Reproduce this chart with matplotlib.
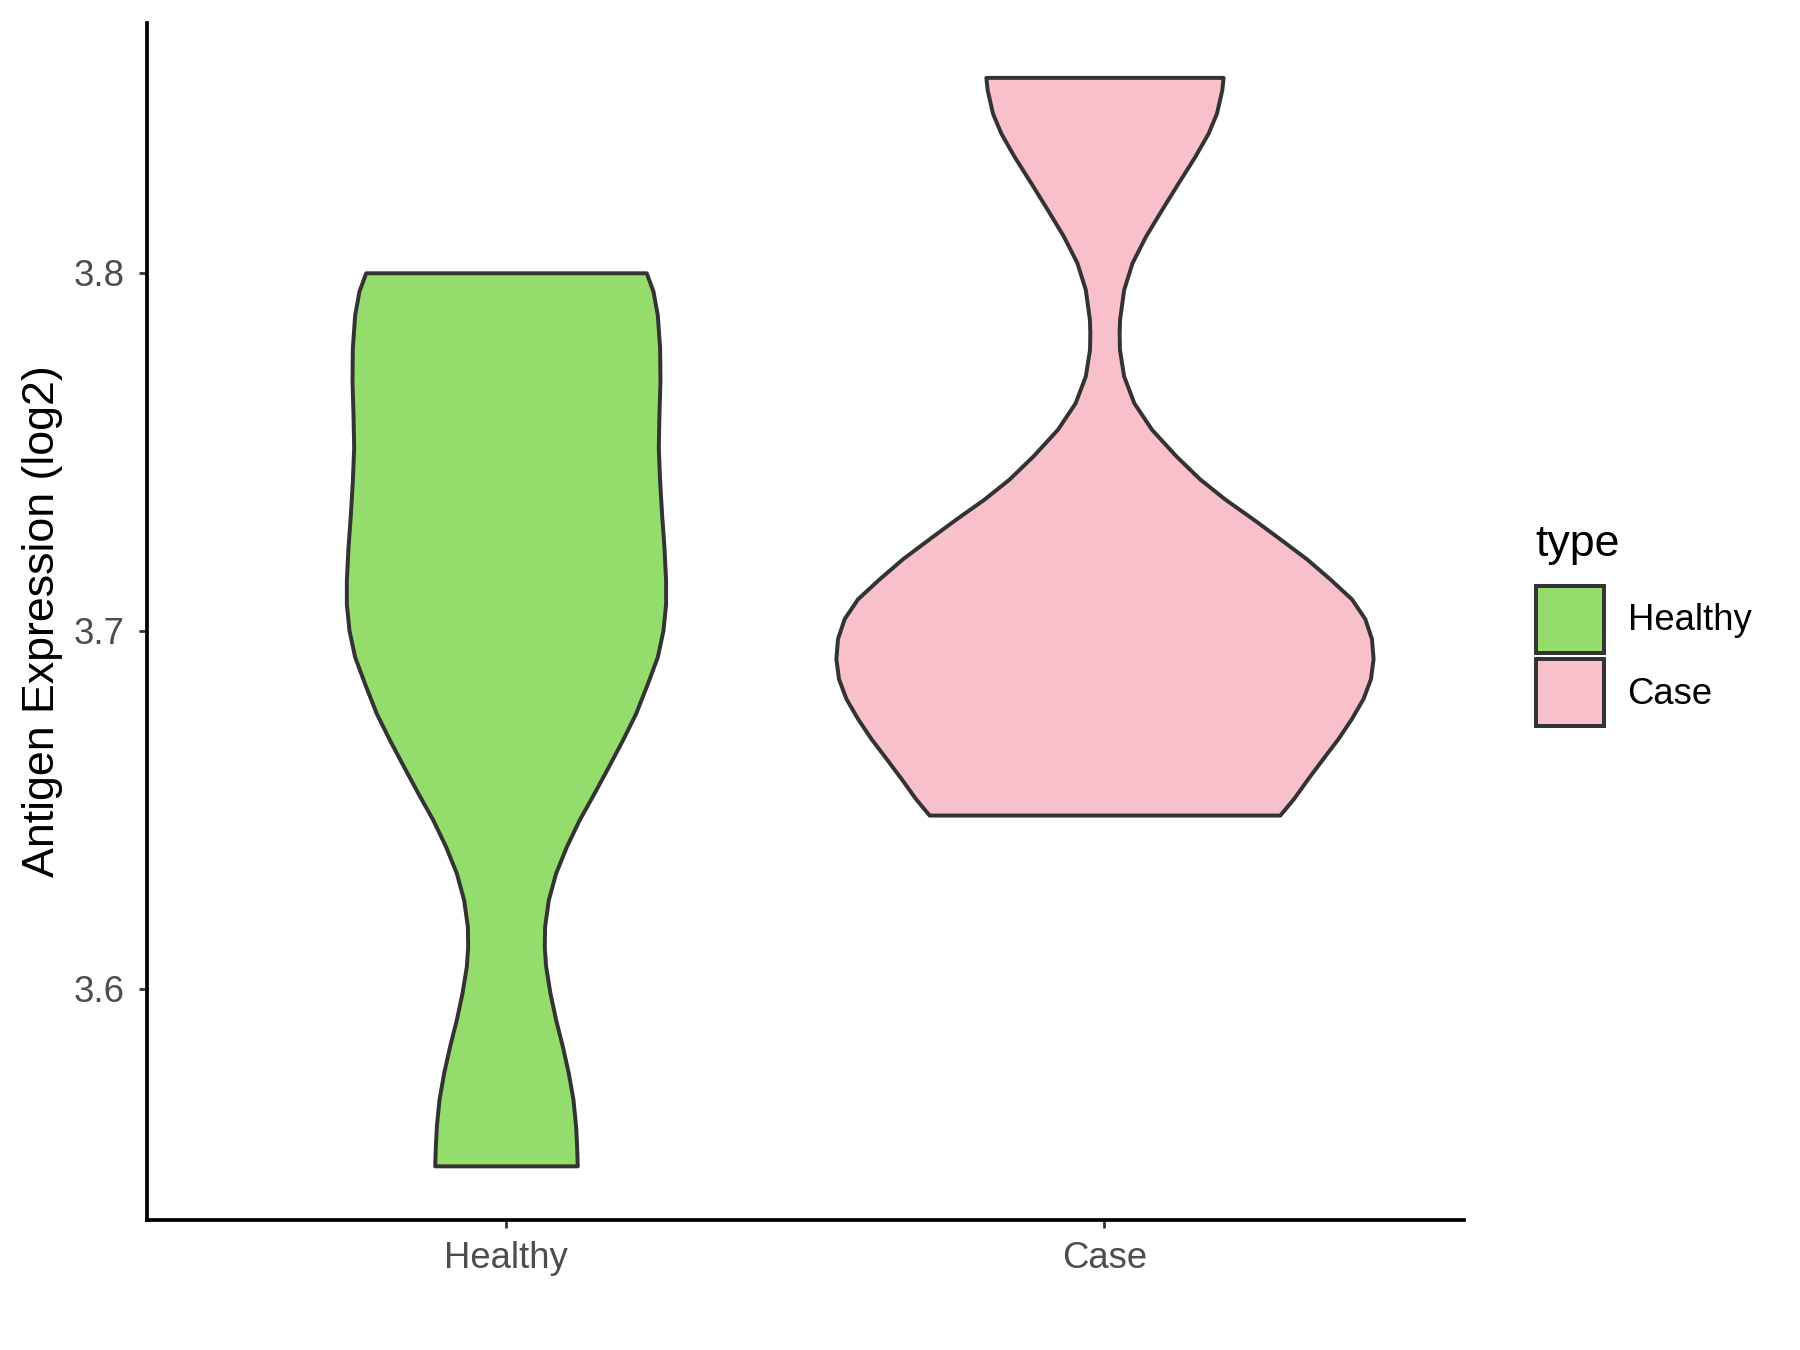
import numpy as np
import matplotlib.pyplot as plt
from matplotlib.patches import Patch

plt.rcParams['font.family'] = ['Liberation Sans', 'DejaVu Sans']

# Categories and fill colours
groups = ["Healthy", "Case"]
colors = ["#94DC6B", "#F7C0CB"]

# Violin outlines: expression value and half width (x units)
healthy_y = [3.5505, 3.5561, 3.5617, 3.5691, 3.5765, 3.5840, 3.5914, 3.5988, 3.6063,
             3.6118, 3.6174, 3.6248, 3.6323, 3.6397, 3.6471, 3.6546, 3.6620, 3.6694,
             3.6769, 3.6852, 3.6927, 3.7001, 3.7075, 3.7140, 3.7233, 3.7326, 3.7419,
             3.7512, 3.7605, 3.7698, 3.7791, 3.7883, 3.7949, 3.8000]
healthy_hw = [0.1191, 0.1180, 0.1163, 0.1119, 0.1041, 0.0941, 0.0829, 0.0735, 0.0662,
              0.0640, 0.0645, 0.0707, 0.0829, 0.1008, 0.1220, 0.1470, 0.1709, 0.1943,
              0.2166, 0.2361, 0.2528, 0.2623, 0.2667, 0.2667, 0.2640, 0.2600, 0.2567,
              0.2545, 0.2556, 0.2573, 0.2567, 0.2528, 0.2456, 0.2344]

case_y = [3.6485, 3.6532, 3.6588, 3.6644, 3.6699, 3.6755, 3.6811, 3.6866, 3.6922,
          3.6978, 3.7034, 3.7089, 3.7145, 3.7201, 3.7257, 3.7312, 3.7368, 3.7424,
          3.7489, 3.7563, 3.7637, 3.7712, 3.7786, 3.7833, 3.7870, 3.7953, 3.8028,
          3.8102, 3.8176, 3.8251, 3.8325, 3.8390, 3.8446, 3.8511, 3.8546]
case_hw = [0.2929, 0.3163, 0.3402, 0.3653, 0.3903, 0.4127, 0.4321, 0.4444, 0.4488,
           0.4461, 0.4349, 0.4127, 0.3764, 0.3375, 0.2929, 0.2483, 0.2010, 0.1592,
           0.1191, 0.0785, 0.0490, 0.0320, 0.0250, 0.0245, 0.0252, 0.0320, 0.0460,
           0.0685, 0.0952, 0.1230, 0.1509, 0.1731, 0.1871, 0.1960, 0.1982]

profiles = [(healthy_y, healthy_hw), (case_y, case_hw)]

fig = plt.figure(figsize=(12, 9), dpi=150)
ax = fig.add_axes([0.0816, 0.0961, 0.7315, 0.8869])

for pos, (ys, hw), col in zip(range(len(groups)), profiles, colors):
    ys = np.array(ys)
    hw = np.array(hw)
    ax.fill_betweenx(ys, pos - hw, pos + hw, facecolor=col, edgecolor="#333333",
                     linewidth=1.9, joinstyle="round")

all_y = np.concatenate([healthy_y, case_y])
span = all_y.max() - all_y.min()
ax.set_ylim(all_y.min() - 0.05 * span, all_y.max() + 0.05 * span)
ax.set_xlim(-0.6, len(groups) - 0.4)

ax.set_xticks(range(len(groups)))
ax.set_xticklabels(groups)
ax.set_yticks([3.6, 3.7, 3.8])
ax.set_yticklabels(["3.6", "3.7", "3.8"])

for side in ["top", "right"]:
    ax.spines[side].set_visible(False)
for side in ["left", "bottom"]:
    ax.spines[side].set_linewidth(1.8)
    ax.spines[side].set_color("black")

ax.tick_params(axis="both", length=3.9, width=1.3, color="#333333",
               labelcolor="#4D4D4D", labelsize=17.5)
ax.tick_params(axis="y", pad=7)
ax.tick_params(axis="x", pad=6)

ax.set_ylabel("Antigen Expression (log2)", fontsize=21.5, labelpad=5)

handles = [Patch(facecolor=c, edgecolor="#333333", linewidth=1.9, label=g)
           for g, c in zip(groups, colors)]
leg = ax.legend(handles=handles, title="type", loc="center left",
                bbox_to_anchor=(0.843, 0.537), bbox_transform=fig.transFigure,
                frameon=False, fontsize=17.5, title_fontsize=21.5,
                handlelength=1.87, handleheight=2.45, handletextpad=0.65,
                labelspacing=0.18, borderpad=0, alignment="left")
# gap between the legend title and the keys
leg._legend_box.sep = 10

fig.savefig("out.png", dpi=150, facecolor="white")
